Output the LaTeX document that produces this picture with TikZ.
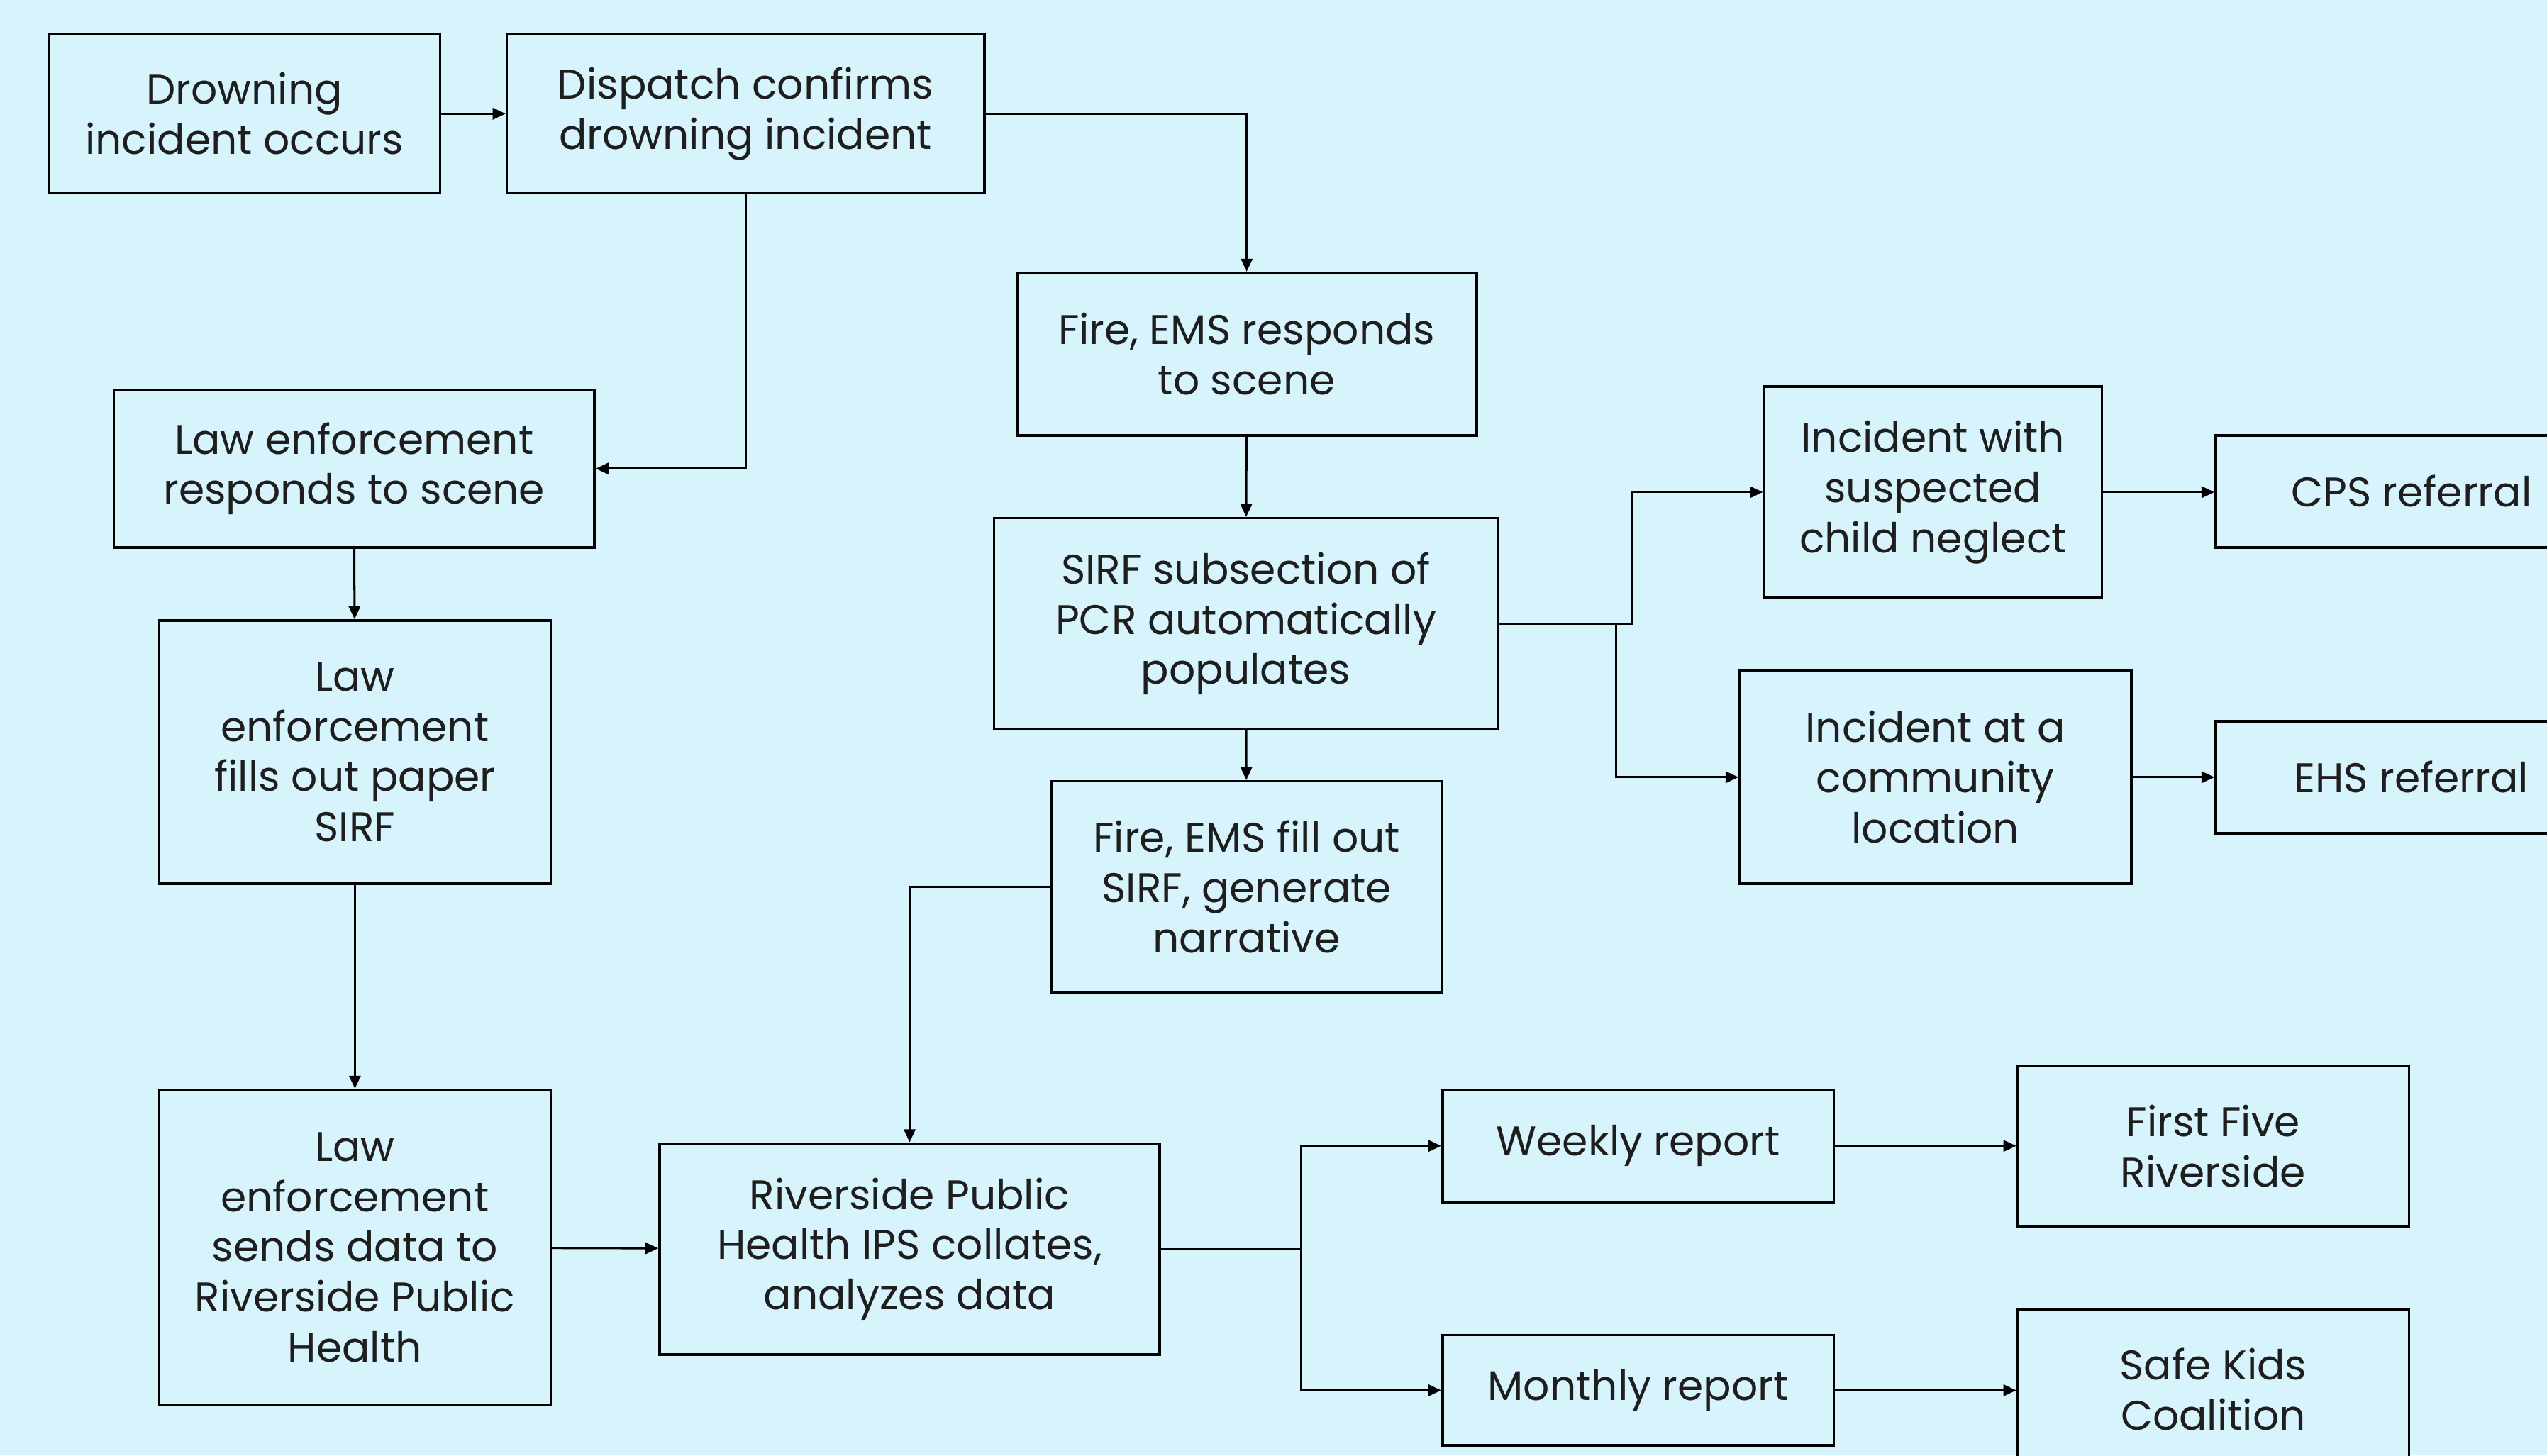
\documentclass[tikz,border=0pt]{standalone}
\usepackage{fontspec}
\setmainfont{Poppins}
\usepackage{tikz}
\usetikzlibrary{positioning}
\usetikzlibrary{arrows.meta}

\definecolor{skyback}{HTML}{D7F3FC}
\definecolor{inkgray}{HTML}{1E1E1E}

\tikzset{
    flowbox/.style={draw=black, line width=0.9pt, fill=skyback, align=center,
        text=inkgray, font=\fontsize{14.5pt}{17.6pt}\selectfont, inner sep=1pt},
    flowline/.style={draw=black, line width=0.75pt},
    flowarrow/.style={flowline, -{Triangle[length=4.5pt,width=4pt]}}
}

\begin{document}
\begin{tikzpicture}[x=0.02cm, y=-0.02cm]
    \useasboundingbox (0,0) rectangle (1568,896);
    \clip (0,0) rectangle (1568,896);
    \fill[skyback] (0,0) rectangle (1568,896);

    % top row
    \node[flowbox, minimum width=4.82cm, minimum height=1.96cm] (drowning) at (150.5,70) {Drowning\\incident occurs};
    \node[flowbox, minimum width=5.88cm, minimum height=1.96cm] (dispatch) at (459,70) {Dispatch confirms\\drowning incident};

    % law enforcement column
    \node[flowbox, minimum width=5.92cm, minimum height=1.94cm] (lawrespond) at (218,288.5) {Law enforcement\\responds to scene};
    \node[flowbox, minimum width=4.82cm, minimum height=3.24cm] (lawfill) at (218.5,463) {Law\\enforcement\\fills out paper\\SIRF};
    \node[flowbox, minimum width=4.82cm, minimum height=3.88cm] (lawsend) at (218.5,768) {Law\\enforcement\\sends data to\\Riverside Public\\Health};

    % fire / EMS column
    \node[flowbox, minimum width=5.66cm, minimum height=2.0cm] (firerespond) at (767.5,218) {Fire, EMS responds\\to scene};
    \node[flowbox, minimum width=6.2cm, minimum height=2.6cm] (sirfpcr) at (767,384) {SIRF subsection of\\PCR automatically\\populates};
    \node[flowbox, minimum width=4.82cm, minimum height=2.6cm] (firefill) at (767.5,546) {Fire, EMS fill out\\SIRF, generate\\narrative};

    % referrals
    \node[flowbox, minimum width=4.16cm, minimum height=2.6cm] (neglect) at (1190,303) {Incident with\\suspected\\child neglect};
    \node[flowbox, minimum width=4.82cm, minimum height=2.62cm] (community) at (1191.5,478.5) {Incident at a\\community\\location};
    \node[flowbox, minimum width=4.82cm, minimum height=1.38cm] (cps) at (1484.5,302.5) {CPS referral};
    \node[flowbox, minimum width=4.82cm, minimum height=1.38cm] (ehs) at (1484.5,478.5) {EHS referral};

    % public health and reports
    \node[flowbox, minimum width=6.16cm, minimum height=2.6cm] (publichealth) at (560,769) {Riverside Public\\Health IPS collates,\\analyzes data};
    \node[flowbox, minimum width=4.82cm, minimum height=1.38cm] (weekly) at (1008.5,705.5) {Weekly report};
    \node[flowbox, minimum width=4.82cm, minimum height=1.36cm] (monthly) at (1008.5,856) {Monthly report};
    \node[flowbox, minimum width=4.82cm, minimum height=1.98cm] (firstfive) at (1362.5,705.5) {First Five\\Riverside};
    \node[flowbox, minimum width=4.82cm, minimum height=1.98cm] (safekids) at (1362.5,855.5) {Safe Kids\\Coalition};

    % branch points
    \coordinate (sirfjoin) at (1005,384);
    \coordinate (sirfsplit) at (995,384);
    \coordinate (healthjoin) at (801,769);

    % connectors
    \draw[flowarrow] (drowning) -- (dispatch);
    \draw[flowarrow] (dispatch.east) -| (firerespond.north);
    \draw[flowarrow] (dispatch.south) |- (lawrespond.east);
    \draw[flowarrow] (lawrespond) -- (lawfill);
    \draw[flowarrow] (lawfill) -- (lawsend);
    \draw[flowarrow] (lawsend) -- (publichealth);
    \draw[flowarrow] (firerespond) -- (sirfpcr);
    \draw[flowarrow] (sirfpcr) -- (firefill);
    \draw[flowarrow] (firefill.west) -| (publichealth.north);
    \draw[flowline] (sirfpcr.east) -- (sirfjoin);
    \draw[flowarrow] (sirfjoin) |- (neglect.west);
    \draw[flowarrow] (sirfsplit) |- (community.west);
    \draw[flowarrow] (neglect) -- (neglect -| cps.west);
    \draw[flowarrow] (community) -- (community -| ehs.west);
    \draw[flowline] (publichealth.east) -- (healthjoin);
    \draw[flowarrow] (healthjoin) |- (weekly.west);
    \draw[flowarrow] (healthjoin) |- (monthly.west);
    \draw[flowarrow] (weekly) -- (firstfive);
    \draw[flowarrow] (monthly) -- (monthly -| safekids.west);
\end{tikzpicture}
\end{document}
